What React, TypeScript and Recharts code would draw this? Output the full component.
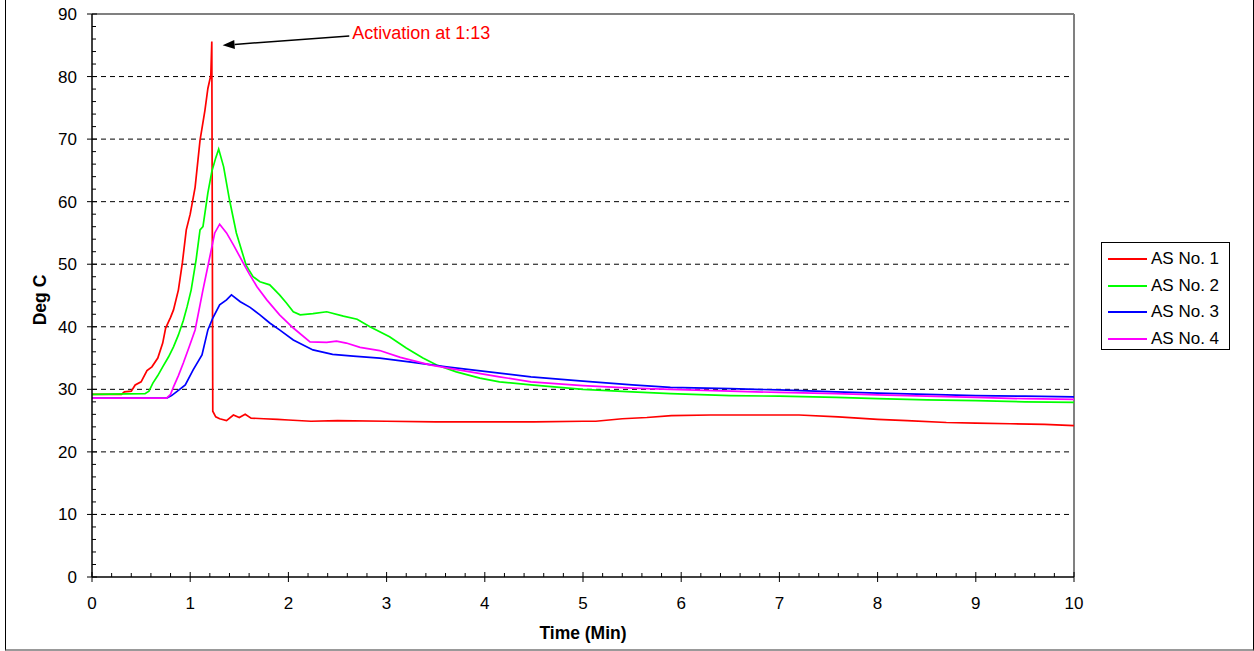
import { Line, LineChart, ReferenceLine, XAxis, YAxis } from "recharts"

const FONT = "Arial, 'Liberation Sans', sans-serif"

// time (min) / temperature (deg C)
const as1Time = [0, 0.3, 0.33, 0.4, 0.44, 0.5, 0.56, 0.61, 0.67, 0.72, 0.75, 0.8, 0.83, 0.88, 0.92, 0.96, 1.0, 1.05, 1.1, 1.15, 1.18, 1.21, 1.22, 1.23, 1.26, 1.3, 1.37, 1.44, 1.5, 1.56, 1.62, 1.75, 1.89, 2.0, 2.23, 2.5, 3.0, 3.5, 4.0, 4.5, 5.0, 5.13, 5.4, 5.65, 5.9, 6.3, 6.8, 7.2, 7.6, 8.0, 8.3, 8.7, 9.0, 9.35, 9.7, 10]
const as1Temp = [29.2, 29.2, 29.6, 29.7, 30.7, 31.2, 33, 33.6, 35, 37.4, 39.8, 41.5, 42.7, 45.9, 50.2, 55.5, 58, 62.3, 69.8, 74.6, 78.1, 80.2, 85.6, 26.5, 25.6, 25.3, 25.0, 25.9, 25.5, 26.0, 25.4, 25.3, 25.2, 25.1, 24.9, 25.0, 24.9, 24.8, 24.8, 24.8, 24.9, 24.9, 25.3, 25.5, 25.8, 25.9, 25.9, 25.9, 25.6, 25.2, 25.0, 24.7, 24.6, 24.5, 24.4, 24.2]

const as2Time = [0, 0.54, 0.58, 0.62, 0.67, 0.72, 0.78, 0.83, 0.88, 0.93, 0.97, 1.01, 1.06, 1.1, 1.13, 1.18, 1.22, 1.26, 1.29, 1.34, 1.4, 1.47, 1.57, 1.64, 1.71, 1.81, 1.91, 1.98, 2.05, 2.12, 2.25, 2.39, 2.56, 2.7, 2.83, 3.03, 3.2, 3.37, 3.51, 3.71, 3.95, 4.15, 4.47, 5.0, 5.5, 5.89, 6.5, 7.0, 7.58, 8.0, 8.5, 9.0, 9.5, 10]
const as2Temp = [29.2, 29.3, 29.7, 31, 32.2, 33.6, 35.2, 36.8, 38.7, 41, 43.3, 45.9, 50.7, 55.5, 56, 61.4, 64.8, 67, 68.4, 65.6, 60.3, 55, 49.8, 48, 47.2, 46.7, 45.1, 43.8, 42.4, 41.9, 42.1, 42.4, 41.7, 41.2, 40.0, 38.4, 36.6, 35.0, 33.9, 32.8, 31.8, 31.2, 30.7, 30.0, 29.6, 29.3, 29.0, 28.9, 28.7, 28.5, 28.3, 28.2, 28.0, 27.9]

const as3Time = [0, 0.76, 0.81, 0.86, 0.95, 1.03, 1.12, 1.18, 1.23, 1.3, 1.37, 1.42, 1.51, 1.61, 1.71, 1.81, 1.91, 2.05, 2.25, 2.45, 2.66, 2.93, 3.27, 3.61, 4.15, 4.47, 5.0, 5.5, 5.89, 6.5, 7.0, 7.58, 8.0, 8.5, 9.0, 9.5, 10]
const as3Temp = [28.6, 28.6, 29.0, 29.6, 30.7, 33.1, 35.5, 39.5, 41.4, 43.5, 44.3, 45.1, 44.0, 43.1, 41.9, 40.6, 39.5, 37.9, 36.3, 35.6, 35.3, 35.0, 34.3, 33.6, 32.6, 32.0, 31.3, 30.7, 30.3, 30.1, 29.9, 29.6, 29.4, 29.2, 29.0, 28.9, 28.8]

const as4Time = [0, 0.76, 0.8, 0.83, 0.88, 0.93, 0.99, 1.05, 1.13, 1.2, 1.25, 1.3, 1.37, 1.44, 1.54, 1.6, 1.68, 1.78, 1.91, 2.05, 2.22, 2.39, 2.49, 2.59, 2.73, 2.93, 3.14, 3.44, 3.7, 4.15, 4.47, 5.0, 5.5, 5.89, 6.5, 7.0, 7.58, 8.0, 8.5, 9.0, 9.5, 10]
const as4Temp = [28.6, 28.6, 29.2, 30.4, 32.2, 34.2, 36.8, 39.5, 45.9, 51.2, 55, 56.4, 55, 53.1, 50.2, 48.5, 46.4, 44.3, 41.9, 39.8, 37.6, 37.5, 37.7, 37.4, 36.7, 36.2, 35.1, 33.9, 33.2, 32.0, 31.2, 30.6, 30.2, 30.0, 29.7, 29.5, 29.3, 29.1, 28.9, 28.7, 28.5, 28.4]

const seriesNames = ["AS No. 1", "AS No. 2", "AS No. 3", "AS No. 4"]
const seriesColors = ["#ff0000", "#00ff00", "#0000ff", "#ff00ff"]
const seriesTimes = [as1Time, as2Time, as3Time, as4Time]
const seriesTemps = [as1Temp, as2Temp, as3Temp, as4Temp]

const xMajorTicks = [0, 1, 2, 3, 4, 5, 6, 7, 8, 9, 10]
const yMajorTicks = [0, 10, 20, 30, 40, 50, 60, 70, 80, 90]
const gridValues = [10, 20, 30, 40, 50, 60, 70, 80]

// minor ticks: 5 per major step
const withMinor = (major: number[]) => {
  const out: number[] = []
  for (let i = 0; i < major.length - 1; i++) {
    const step = (major[i + 1] - major[i]) / 5
    for (let k = 0; k < 5; k++) out.push(+(major[i] + k * step).toFixed(4))
  }
  out.push(major[major.length - 1])
  return out
}
const xTicks = withMinor(xMajorTicks)
const yTicks = withMinor(yMajorTicks)

const isMajor = (v: number, list: number[]) =>
  list.some((m) => Math.abs(m - v) < 1e-6)

const XTick = ({ x, y, payload }: any) => {
  const v = payload.value
  const major = isMajor(v, xMajorTicks)
  return (
    <g>
      <line
        x1={x}
        x2={x}
        y1={y - (major ? 5 : 4)}
        y2={major ? y + 5 : y}
        stroke="#000"
      />
      {major && (
        <text x={x} y={y + 32} textAnchor="middle" fontSize={17} fill="#000" fontFamily={FONT}>
          {v}
        </text>
      )}
    </g>
  )
}

const YTick = ({ x, y, payload }: any) => {
  const v = payload.value
  const major = isMajor(v, yMajorTicks)
  return (
    <g>
      <line
        x1={major ? x - 5 : x}
        x2={x + (major ? 5 : 4)}
        y1={y}
        y2={y}
        stroke="#000"
      />
      {major && (
        <text x={x - 15} y={y + 6} textAnchor="end" fontSize={17} fill="#000" fontFamily={FONT}>
          {v}
        </text>
      )}
    </g>
  )
}

const ArrowNote = (props: any) => {
  const { x1, y1, x2, y2 } = props
  const ang = Math.atan2(y2 - y1, x2 - x1)
  const len = 12
  const w = 4.5
  const bx = x2 - len * Math.cos(ang)
  const by = y2 - len * Math.sin(ang)
  const px = -Math.sin(ang) * w
  const py = Math.cos(ang) * w
  return (
    <g>
      <line x1={x1} y1={y1} x2={bx} y2={by} stroke="#000" strokeWidth={1.5} />
      <polygon points={`${x2},${y2} ${bx + px},${by + py} ${bx - px},${by - py}`} fill="#000" />
      <text x={x1 + 3} y={y1 + 3} fill="#ff0000" fontSize={18} fontFamily={FONT}>
        Activation at 1:13
      </text>
    </g>
  )
}

export default function App() {
  const series = seriesNames.map((name, i) => ({
    name,
    color: seriesColors[i],
    data: seriesTimes[i].map((t, j) => ({ t, temp: seriesTemps[i][j] })),
  }))

  return (
    <div
      style={{
        position: "absolute",
        left: 0,
        top: 0,
        width: 1254,
        height: 651,
        background: "#fff",
        fontFamily: FONT,
      }}
    >
      <div
        style={{
          position: "absolute",
          left: 5,
          top: -5,
          width: 1249,
          height: 656,
          boxSizing: "border-box",
          borderLeft: "1px solid #000",
          borderRight: "1px solid #000",
          borderBottom: "2px solid #999",
        }}
      />
      <LineChart
        width={1254}
        height={651}
        margin={{ top: 14, right: 180, bottom: 14, left: 0 }}
      >
        <XAxis
          type="number"
          dataKey="t"
          domain={[0, 10]}
          ticks={xTicks}
          interval={0}
          tick={<XTick />}
          tickLine={false}
          tickSize={0}
          tickMargin={0}
          height={60}
          axisLine={{ stroke: "#000", strokeWidth: 1.5 }}
          allowDuplicatedCategory={false}
        />
        <YAxis
          type="number"
          domain={[0, 90]}
          ticks={yTicks}
          interval={0}
          tick={<YTick />}
          tickLine={false}
          tickSize={0}
          tickMargin={0}
          width={92}
          axisLine={{ stroke: "#000", strokeWidth: 1.5 }}
        />
        {gridValues.map((g) => (
          <ReferenceLine key={g} y={g} stroke="#000" strokeDasharray="5 4" />
        ))}
        <ReferenceLine y={90} stroke="#808080" strokeWidth={2} />
        <ReferenceLine x={10} stroke="#808080" strokeWidth={2} />
        {series.map((s) => (
          <Line
            key={s.name}
            data={s.data}
            dataKey="temp"
            name={s.name}
            type="linear"
            stroke={s.color}
            strokeWidth={1.7}
            dot={false}
            activeDot={false}
            isAnimationActive={false}
          />
        ))}
        <ReferenceLine
          segment={[
            { x: 2.62, y: 86.5 },
            { x: 1.33, y: 85.0 },
          ]}
          ifOverflow="visible"
          shape={(p: any) => <ArrowNote {...p} />}
        />
      </LineChart>
      <div
        style={{
          position: "absolute",
          left: 40,
          top: 300,
          transform: "translate(-50%, -50%) rotate(-90deg)",
          fontWeight: "bold",
          fontSize: 17.5,
          whiteSpace: "nowrap",
        }}
      >
        Deg C
      </div>
      <div
        style={{
          position: "absolute",
          left: 583,
          top: 633,
          transform: "translate(-50%, -50%)",
          fontWeight: "bold",
          fontSize: 17.5,
          whiteSpace: "nowrap",
        }}
      >
        Time (Min)
      </div>
      <div
        style={{
          position: "absolute",
          left: 1101,
          top: 242,
          width: 129,
          height: 108,
          boxSizing: "border-box",
          border: "1px solid #000",
          paddingTop: 3,
        }}
      >
        {series.map((s) => (
          <div
            key={s.name}
            style={{ display: "flex", alignItems: "center", height: 26.5, fontSize: 17 }}
          >
            <div style={{ width: 39, height: 2, background: s.color, marginLeft: 6, marginRight: 4 }} />
            <span>{s.name}</span>
          </div>
        ))}
      </div>
    </div>
  )
}
